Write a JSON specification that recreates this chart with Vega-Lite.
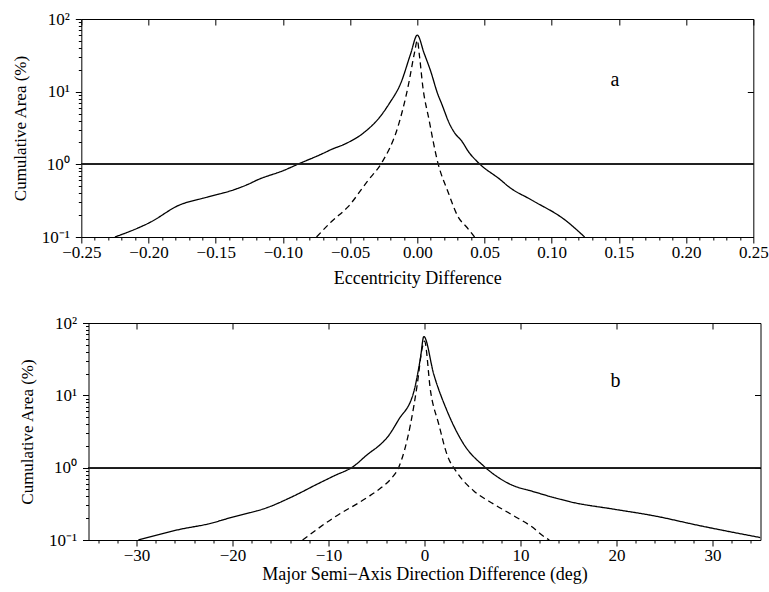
{
  "$schema": "https://vega.github.io/schema/vega-lite/v6.json",
  "padding": {"left": 10, "top": 9, "right": 0, "bottom": 0},
  "background": "white",
  "spacing": 25,
  "center": true,
  "config": {
    "font": "Liberation Serif",
    "view": {"stroke": "black", "strokeWidth": 1},
    "axis": {
      "labelFont": "Liberation Serif",
      "titleFont": "Liberation Serif",
      "labelColor": "black",
      "titleColor": "black",
      "ticks": true,
      "tickColor": "black",
      "tickOpacity": 1,
      "tickWidth": 1,
      "tickSize": 6,
      "zindex": 2,
      "grid": false,
      "domain": false,
      "labelFontSize": 17,
      "titleFontSize": 18,
      "titleFontWeight": "normal",
      "labelFlush": false,
      "labelOverlap": false,
      "labelBound": false
    }
  },
  "vconcat": [
    {
      "width": 672,
      "height": 218,
      "data": {"values": [
        {"x": -0.225, "y": 0.1, "s": "solid"},
        {"x": -0.198, "y": 0.162, "s": "solid"},
        {"x": -0.178, "y": 0.27, "s": "solid"},
        {"x": -0.156, "y": 0.355, "s": "solid"},
        {"x": -0.136, "y": 0.45, "s": "solid"},
        {"x": -0.126, "y": 0.53, "s": "solid"},
        {"x": -0.119, "y": 0.61, "s": "solid"},
        {"x": -0.099, "y": 0.83, "s": "solid"},
        {"x": -0.088, "y": 1.02, "s": "solid"},
        {"x": -0.071, "y": 1.39, "s": "solid"},
        {"x": -0.064, "y": 1.6, "s": "solid"},
        {"x": -0.054, "y": 1.9, "s": "solid"},
        {"x": -0.039, "y": 2.8, "s": "solid"},
        {"x": -0.027, "y": 4.7, "s": "solid"},
        {"x": -0.021, "y": 6.8, "s": "solid"},
        {"x": -0.012, "y": 13.5, "s": "solid"},
        {"x": -0.005, "y": 33, "s": "solid"},
        {"x": 0, "y": 60, "s": "solid"},
        {"x": 0.005, "y": 34, "s": "solid"},
        {"x": 0.01, "y": 19, "s": "solid"},
        {"x": 0.015, "y": 9.5, "s": "solid"},
        {"x": 0.018, "y": 6.9, "s": "solid"},
        {"x": 0.024, "y": 3.6, "s": "solid"},
        {"x": 0.028, "y": 2.67, "s": "solid"},
        {"x": 0.033, "y": 2.1, "s": "solid"},
        {"x": 0.038, "y": 1.5, "s": "solid"},
        {"x": 0.045, "y": 1.07, "s": "solid"},
        {"x": 0.0625, "y": 0.6, "s": "solid"},
        {"x": 0.0675, "y": 0.5, "s": "solid"},
        {"x": 0.085, "y": 0.323, "s": "solid"},
        {"x": 0.11, "y": 0.171, "s": "solid"},
        {"x": 0.1245, "y": 0.1, "s": "solid"},
        {"x": -0.075, "y": 0.1, "s": "dashed"},
        {"x": -0.064, "y": 0.162, "s": "dashed"},
        {"x": -0.0516, "y": 0.26, "s": "dashed"},
        {"x": -0.0367, "y": 0.6, "s": "dashed"},
        {"x": -0.0265, "y": 1.05, "s": "dashed"},
        {"x": -0.0144, "y": 3.3, "s": "dashed"},
        {"x": -0.0069, "y": 11.7, "s": "dashed"},
        {"x": -0.002, "y": 35, "s": "dashed"},
        {"x": 0, "y": 51, "s": "dashed"},
        {"x": 0.0017, "y": 30, "s": "dashed"},
        {"x": 0.0041, "y": 11.7, "s": "dashed"},
        {"x": 0.0085, "y": 4.3, "s": "dashed"},
        {"x": 0.0154, "y": 1.03, "s": "dashed"},
        {"x": 0.0228, "y": 0.42, "s": "dashed"},
        {"x": 0.0303, "y": 0.19, "s": "dashed"},
        {"x": 0.037, "y": 0.135, "s": "dashed"},
        {"x": 0.0426, "y": 0.1, "s": "dashed"}
      ]},
      "layer": [
        {
          "mark": {"type": "line", "color": "black", "strokeWidth": 1.3, "clip": true, "interpolate": "monotone"},
          "encoding": {
            "x": {
              "field": "x", "type": "quantitative",
              "scale": {"domain": [-0.25, 0.25], "nice": false, "zero": false},
              "axis": {
                "orient": "bottom",
                "ticks": true, "tickSize": 6, "offset": 0,
                "values": [-0.25,-0.24,-0.23,-0.22,-0.21,-0.2,-0.19,-0.18,-0.17,-0.16,-0.15,-0.14,-0.13,-0.12,-0.11,-0.1,-0.09,-0.08,-0.07,-0.06,-0.05,-0.04,-0.03,-0.02,-0.01,0,0.01,0.02,0.03,0.04,0.05,0.06,0.07,0.08,0.09,0.1,0.11,0.12,0.13,0.14,0.15,0.16,0.17,0.18,0.19,0.2,0.21,0.22,0.23,0.24,0.25],
                "labelExpr": "abs(round(datum.value*100)) % 5 == 0 ? format(datum.value, '.2f') : ''",
                "tickDash": {"condition": {"test": "abs(round(datum.value*100)) % 5 == 0", "value": [6, 0]}, "value": [3, 3]},
                "labelPadding": 1,
                "title": "Eccentricity Difference",
                "titlePadding": 9
              }
            },
            "y": {
              "field": "y", "type": "quantitative",
              "scale": {"type": "log", "domain": [0.1, 100], "nice": false},
              "axis": {
                "orient": "left",
                "ticks": true, "tickSize": 6, "offset": 0,
                "values": [0.1,0.2,0.3,0.4,0.5,0.6,0.7,0.8,0.9,1,2,3,4,5,6,7,8,9,10,20,30,40,50,60,70,80,90,100],
                "labelExpr": "datum.value == 100 ? '10²' : datum.value == 10 ? '10¹' : datum.value == 1 ? '10⁰' : datum.value == 0.1 ? '10⁻¹' : ''",
                "tickDash": {"condition": {"test": "datum.value == 0.1 || datum.value == 1 || datum.value == 10 || datum.value == 100", "value": [6, 0]}, "value": [3, 3]},
                "labelPadding": 6,
                "title": "Cumulative Area (%)",
                "titleFontSize": 17,
                "titlePadding": 12
              }
            },
            "strokeDash": {
              "field": "s", "type": "nominal",
              "scale": {"domain": ["solid", "dashed"], "range": [[1, 0], [6, 4]]},
              "legend": null
            }
          }
        },
        {
          "mark": {"type": "rule", "color": "#222", "strokeWidth": 0.7},
          "encoding": {"y": {"datum": 1, "type": "quantitative", "axis": null}}
        },
        {
          "data": {"values": [{"x": 0.147, "y": 14.4, "label": "a"}]},
          "mark": {"type": "text", "font": "Liberation Serif", "fontSize": 20, "color": "black", "baseline": "middle", "align": "center"},
          "encoding": {
            "x": {
              "field": "x", "type": "quantitative",
              "scale": {"domain": [-0.25, 0.25], "nice": false, "zero": false},
              "axis": {
                "orient": "top", "labels": false, "title": null,
                "ticks": true, "tickSize": 6, "offset": -6,
                "values": [-0.25,-0.2,-0.15,-0.1,-0.05,0,0.05,0.1,0.15,0.2,0.25]
              }
            },
            "y": {
              "field": "y", "type": "quantitative",
              "scale": {"type": "log", "domain": [0.1, 100], "nice": false},
              "axis": {
                "orient": "right", "labels": false, "title": null,
                "ticks": true, "tickSize": 6, "offset": -6,
                "values": [0.1, 1, 10, 100]
              }
            },
            "text": {"field": "label"}
          }
        }
      ],
      "resolve": {"axis": {"x": "independent", "y": "independent"}}
    },
    {
      "width": 672,
      "height": 217,
      "data": {"values": [
        {"x": -29.8, "y": 0.1, "s": "solid"},
        {"x": -25.4, "y": 0.141, "s": "solid"},
        {"x": -22.6, "y": 0.166, "s": "solid"},
        {"x": -19.9, "y": 0.209, "s": "solid"},
        {"x": -16.4, "y": 0.28, "s": "solid"},
        {"x": -13.6, "y": 0.407, "s": "solid"},
        {"x": -11.2, "y": 0.59, "s": "solid"},
        {"x": -9.45, "y": 0.767, "s": "solid"},
        {"x": -7.36, "y": 1.05, "s": "solid"},
        {"x": -6.0, "y": 1.5, "s": "solid"},
        {"x": -4.5, "y": 2.15, "s": "solid"},
        {"x": -3.9, "y": 2.6, "s": "solid"},
        {"x": -2.7, "y": 4.6, "s": "solid"},
        {"x": -1.1, "y": 11.4, "s": "solid"},
        {"x": -0.42, "y": 33, "s": "solid"},
        {"x": -0.07, "y": 65, "s": "solid"},
        {"x": 0.97, "y": 19.4, "s": "solid"},
        {"x": 2.36, "y": 6.05, "s": "solid"},
        {"x": 4.1, "y": 2.1, "s": "solid"},
        {"x": 6.18, "y": 1.05, "s": "solid"},
        {"x": 8.6, "y": 0.62, "s": "solid"},
        {"x": 11.7, "y": 0.452, "s": "solid"},
        {"x": 15.55, "y": 0.329, "s": "solid"},
        {"x": 19.7, "y": 0.267, "s": "solid"},
        {"x": 23.9, "y": 0.216, "s": "solid"},
        {"x": 28.75, "y": 0.157, "s": "solid"},
        {"x": 35, "y": 0.108, "s": "solid"},
        {"x": -12.7, "y": 0.1, "s": "dashed"},
        {"x": -9.45, "y": 0.204, "s": "dashed"},
        {"x": -5.98, "y": 0.386, "s": "dashed"},
        {"x": -4.5, "y": 0.53, "s": "dashed"},
        {"x": -3.5, "y": 0.7, "s": "dashed"},
        {"x": -2.7, "y": 1.0, "s": "dashed"},
        {"x": -1.46, "y": 3.97, "s": "dashed"},
        {"x": -0.76, "y": 14, "s": "dashed"},
        {"x": -0.24, "y": 45, "s": "dashed"},
        {"x": 0, "y": 56, "s": "dashed"},
        {"x": 0.63, "y": 11.4, "s": "dashed"},
        {"x": 1.49, "y": 3.97, "s": "dashed"},
        {"x": 2.36, "y": 1.5, "s": "dashed"},
        {"x": 3.4, "y": 0.85, "s": "dashed"},
        {"x": 5.14, "y": 0.477, "s": "dashed"},
        {"x": 7.22, "y": 0.313, "s": "dashed"},
        {"x": 9.3, "y": 0.216, "s": "dashed"},
        {"x": 11.04, "y": 0.157, "s": "dashed"},
        {"x": 12.6, "y": 0.108, "s": "dashed"},
        {"x": 13, "y": 0.1, "s": "dashed"}
      ]},
      "layer": [
        {
          "mark": {"type": "line", "color": "black", "strokeWidth": 1.3, "clip": true, "interpolate": "monotone"},
          "encoding": {
            "x": {
              "field": "x", "type": "quantitative",
              "scale": {"domain": [-35, 35], "nice": false, "zero": false},
              "axis": {
                "orient": "bottom",
                "ticks": true, "tickSize": 6, "offset": 0,
                "values": [-34,-32,-30,-28,-26,-24,-22,-20,-18,-16,-14,-12,-10,-8,-6,-4,-2,0,2,4,6,8,10,12,14,16,18,20,22,24,26,28,30,32,34],
                "labelExpr": "datum.value % 10 == 0 ? format(datum.value, 'd') : ''",
                "tickDash": {"condition": {"test": "datum.value % 10 == 0", "value": [6, 0]}, "value": [3, 3]},
                "labelPadding": 1,
                "title": "Major Semi−Axis Direction Difference (deg)",
                "titlePadding": 2
              }
            },
            "y": {
              "field": "y", "type": "quantitative",
              "scale": {"type": "log", "domain": [0.1, 100], "nice": false},
              "axis": {
                "orient": "left",
                "ticks": true, "tickSize": 6, "offset": 0,
                "values": [0.1,0.2,0.3,0.4,0.5,0.6,0.7,0.8,0.9,1,2,3,4,5,6,7,8,9,10,20,30,40,50,60,70,80,90,100],
                "labelExpr": "datum.value == 100 ? '10²' : datum.value == 10 ? '10¹' : datum.value == 1 ? '10⁰' : datum.value == 0.1 ? '10⁻¹' : ''",
                "tickDash": {"condition": {"test": "datum.value == 0.1 || datum.value == 1 || datum.value == 10 || datum.value == 100", "value": [6, 0]}, "value": [3, 3]},
                "labelPadding": 6,
                "title": "Cumulative Area (%)",
                "titleFontSize": 17,
                "titlePadding": 12
              }
            },
            "strokeDash": {
              "field": "s", "type": "nominal",
              "scale": {"domain": ["solid", "dashed"], "range": [[1, 0], [6, 4]]},
              "legend": null
            }
          }
        },
        {
          "mark": {"type": "rule", "color": "#222", "strokeWidth": 0.7},
          "encoding": {"y": {"datum": 1, "type": "quantitative", "axis": null}}
        },
        {
          "data": {"values": [{"x": 19.9, "y": 15.7, "label": "b"}]},
          "mark": {"type": "text", "font": "Liberation Serif", "fontSize": 20, "color": "black", "baseline": "middle", "align": "center"},
          "encoding": {
            "x": {
              "field": "x", "type": "quantitative",
              "scale": {"domain": [-35, 35], "nice": false, "zero": false},
              "axis": {
                "orient": "top", "labels": false, "title": null,
                "ticks": true, "tickSize": 6, "offset": -6,
                "values": [-30,-20,-10,0,10,20,30]
              }
            },
            "y": {
              "field": "y", "type": "quantitative",
              "scale": {"type": "log", "domain": [0.1, 100], "nice": false},
              "axis": {
                "orient": "right", "labels": false, "title": null,
                "ticks": true, "tickSize": 6, "offset": -6,
                "values": [0.1, 1, 10, 100]
              }
            },
            "text": {"field": "label"}
          }
        }
      ],
      "resolve": {"axis": {"x": "independent", "y": "independent"}}
    }
  ]
}
